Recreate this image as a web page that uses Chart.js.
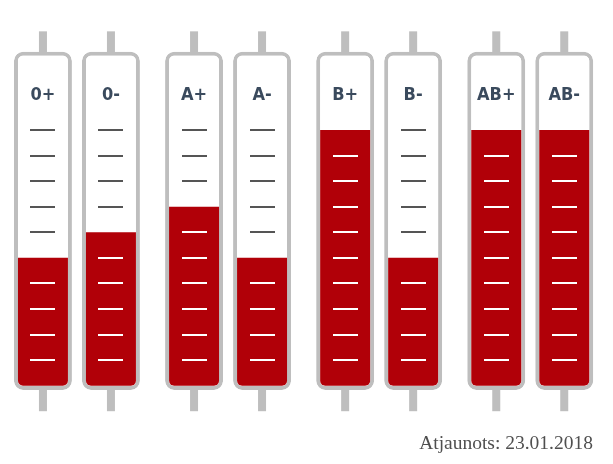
<!DOCTYPE html>
<html>
<head>
<meta charset="utf-8">
<script src="https://cdn.jsdelivr.net/npm/chart.js@4"></script>
<style>
  html, body { margin: 0; padding: 0; background: #ffffff; }
  #wrap { position: relative; width: 613px; height: 464px; }
  #footer {
    position: absolute; right: 20px; top: 432px;
    font-family: "Liberation Serif", "DejaVu Serif", serif;
    font-size: 19.5px; color: #4f4f4f; white-space: nowrap;
  }
</style>
</head>
<body>
<div id="wrap">
  <canvas id="c" width="613" height="464"></canvas>
  <div id="footer">Atjaunots: 23.01.2018</div>
</div>
<script>
// ---- data ----
const groups = ['0', 'A', 'B', 'AB'];
const posLabels = ['0+', 'A+', 'B+', 'AB+'];
const negLabels = ['0-', 'A-', 'B-', 'AB-'];
const posLevels = [5, 7, 10, 10];
const negLevels = [6, 5, 5, 10];
const levelTicks = [1, 2, 3, 4, 5, 6, 7, 8, 9, 10];

// ---- styling constants ----
const TUBE_TOP = 13.06;
const TUBE_BASE = -0.17;
const NECK_TOP = 13.86;
const NECK_BOTTOM = -1.0;
const LABEL_LEVEL = 11.17;
const GREY = '#bebebe';
const RED = '#b10008';

const tubeDataset = (stack) => ({
  data: groups.map(() => TUBE_TOP),
  base: TUBE_BASE,
  stack: stack,
  order: 1,
  backgroundColor: '#ffffff',
  borderColor: GREY,
  borderWidth: 4,
  borderSkipped: false,
  borderRadius: 9,
  barPercentage: 0.852,
  categoryPercentage: 0.9,
  isTube: true
});
const fillDataset = (stack, values, labels) => ({
  data: values,
  stack: stack,
  order: 0,
  backgroundColor: RED,
  borderWidth: 0,
  borderSkipped: false,
  borderRadius: { topLeft: 0, topRight: 0, bottomLeft: 5, bottomRight: 5 },
  barPercentage: 0.735,
  categoryPercentage: 0.9,
  tubeLabels: labels
});

const tubePlugin = {
  id: 'tubeDecor',
  beforeDatasetsDraw(chart) {
    const ctx = chart.ctx;
    const y = chart.scales.y;
    ctx.save();
    ctx.fillStyle = GREY;
    chart.data.datasets.forEach((ds, i) => {
      if (!ds.isTube) return;
      chart.getDatasetMeta(i).data.forEach((bar) => {
        const top = y.getPixelForValue(NECK_TOP);
        const t2 = y.getPixelForValue(TUBE_TOP) + 2;
        const b1 = y.getPixelForValue(TUBE_BASE) - 2;
        const bot = y.getPixelForValue(NECK_BOTTOM);
        ctx.fillRect(bar.x - 4, top, 8, t2 - top);
        ctx.fillRect(bar.x - 4, b1, 8, bot - b1);
      });
    });
    ctx.restore();
  },
  afterDatasetsDraw(chart) {
    const ctx = chart.ctx;
    const y = chart.scales.y;
    ctx.save();
    chart.data.datasets.forEach((ds, i) => {
      if (!ds.tubeLabels) return;
      chart.getDatasetMeta(i).data.forEach((bar, j) => {
        const level = ds.data[j];
        levelTicks.forEach((t) => {
          if (t === level) return;
          const py = Math.round(y.getPixelForValue(t));
          ctx.fillStyle = t < level ? '#ffffff' : '#555555';
          ctx.fillRect(Math.round(bar.x - 12.5), py - 1, 25, 2);
        });
        ctx.fillStyle = '#3a4a5d';
        ctx.font = 'bold 18px "Liberation Sans Narrow", "DejaVu Sans Condensed", "Roboto", sans-serif';
        ctx.textAlign = 'center';
        ctx.textBaseline = 'alphabetic';
        ctx.fillText(ds.tubeLabels[j], bar.x, y.getPixelForValue(LABEL_LEVEL));
      });
    });
    ctx.restore();
  }
};

new Chart(document.getElementById('c'), {
  type: 'bar',
  data: {
    labels: groups,
    datasets: [
      tubeDataset('pos'),
      fillDataset('pos', posLevels, posLabels),
      tubeDataset('neg'),
      fillDataset('neg', negLevels, negLabels)
    ]
  },
  options: {
    responsive: false,
    animation: false,
    layout: { padding: { left: 1.4, right: 7.2, top: 27.76, bottom: 52.8 } },
    plugins: { legend: { display: false }, tooltip: { enabled: false }, title: { display: false } },
    scales: {
      x: { display: false, grid: { display: false } },
      y: { display: false, stacked: false, min: -1, max: 14, grid: { display: false } }
    }
  },
  plugins: [tubePlugin]
});
</script>
</body>
</html>
